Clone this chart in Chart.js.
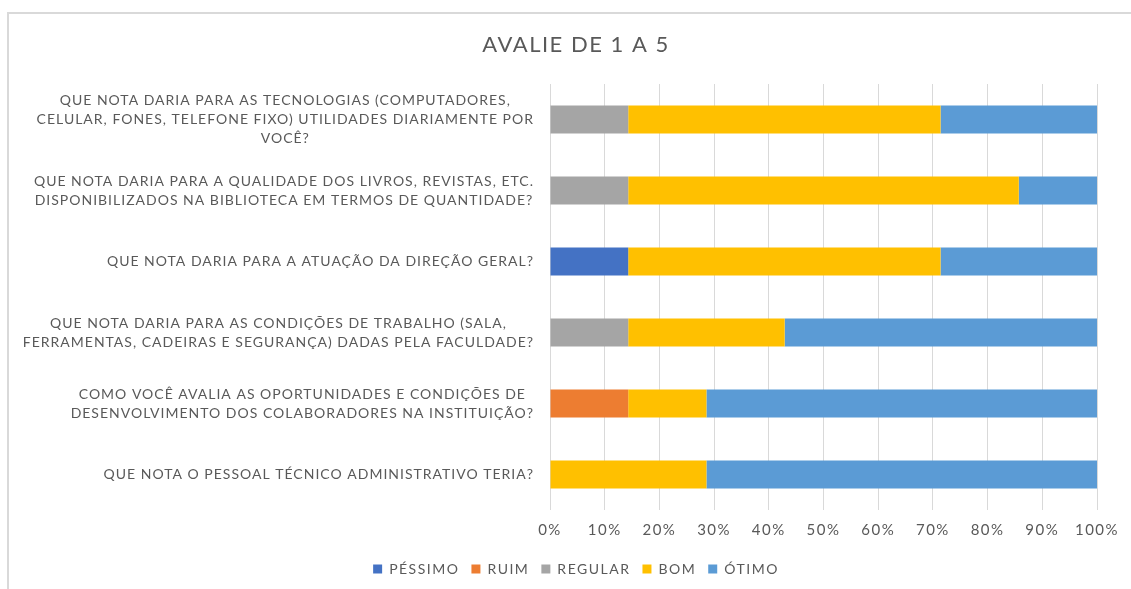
<!DOCTYPE html>
<html>
<head>
<meta charset="utf-8">
<script src="https://cdn.jsdelivr.net/npm/chart.js@4/dist/chart.umd.min.js"></script>
<style>
  html, body { margin: 0; padding: 0; width: 1131px; height: 589px; overflow: hidden; background: #fff; }
  #frame { position: absolute; left: 7px; top: 12px; width: 1200px; height: 700px;
           border-left: 2px solid #d9d9d9; border-top: 2px solid #d9d9d9; }
  #wrap { position: absolute; left: 8px; top: 13px; width: 1136px; height: 576px; }
</style>
</head>
<body>
<div id="frame"></div>
<div id="wrap"><canvas id="c" width="1136" height="576"></canvas></div>
<script>
const titleText = "AVALIE DE 1 A 5";
const categories = [
  ["QUE NOTA DARIA PARA AS TECNOLOGIAS (COMPUTADORES,", "CELULAR, FONES, TELEFONE FIXO) UTILIDADES DIARIAMENTE POR", "VOCÊ?"],
  ["QUE NOTA DARIA PARA A QUALIDADE DOS LIVROS, REVISTAS, ETC.", "DISPONIBILIZADOS NA BIBLIOTECA EM TERMOS DE QUANTIDADE?"],
  ["QUE NOTA DARIA PARA A ATUAÇÃO DA DIREÇÃO GERAL?"],
  ["QUE NOTA DARIA PARA AS CONDIÇÕES DE TRABALHO (SALA,", "FERRAMENTAS, CADEIRAS E SEGURANÇA) DADAS PELA FACULDADE?"],
  ["COMO VOCÊ AVALIA AS OPORTUNIDADES E CONDIÇÕES DE", "DESENVOLVIMENTO DOS COLABORADORES NA INSTITUIÇÃO?"],
  ["QUE NOTA O PESSOAL TÉCNICO ADMINISTRATIVO TERIA?"]
];
const seriesNames = ["PÉSSIMO", "RUIM", "REGULAR", "BOM", "ÓTIMO"];
const pessimo = [0, 0, 14.3, 0, 0, 0];
const ruim    = [0, 0, 0, 0, 14.3, 0];
const regular = [14.3, 14.3, 0, 14.3, 0, 0];
const bom     = [57.1, 71.4, 57.1, 28.6, 14.3, 28.6];
const otimo   = [28.6, 14.3, 28.6, 57.1, 71.4, 71.4];
const xTicks  = [0, 10, 20, 30, 40, 50, 60, 70, 80, 90, 100];

const colors = ["#4472C4", "#ED7D31", "#A5A5A5", "#FFC000", "#5B9BD5"];
const FONT = "Lato";
const TEXT = "#595959";
const SPACING = "1.5px";
const LABEL_SPACING = "1px";

const spacingPlugin = {
  id: 'spacing',
  beforeUpdate(chart) { chart.ctx.letterSpacing = SPACING; },
  beforeLayout(chart) { chart.ctx.letterSpacing = SPACING; },
  beforeDraw(chart) { chart.ctx.letterSpacing = SPACING; }
};

const labelPlugin = {
  id: 'catLabels',
  afterDraw(chart) {
    const ctx = chart.ctx;
    const ys = chart.scales.y;
    const right = chart.chartArea.left - 16;
    const lh = 19;
    ctx.save();
    ctx.letterSpacing = LABEL_SPACING;
    ctx.font = "14px " + FONT;
    ctx.fillStyle = TEXT;
    ctx.textAlign = "center";
    ctx.textBaseline = "middle";
    categories.forEach((lines, i) => {
      const yc = ys.getPixelForValue(i);
      const w = Math.max(...lines.map(l => ctx.measureText(l).width));
      const cx = right - w / 2;
      const y0 = yc - (lines.length - 1) * lh / 2;
      lines.forEach((l, j) => ctx.fillText(l, cx, y0 + j * lh));
    });
    ctx.restore();
  }
};

const seriesData = [pessimo, ruim, regular, bom, otimo];

new Chart(document.getElementById('c'), {
  type: 'bar',
  data: {
    labels: categories.map(c => c.join(' ')),
    datasets: seriesNames.map((n, k) => ({
      label: n,
      data: seriesData[k],
      backgroundColor: colors[k],
      borderWidth: 0,
      categoryPercentage: 1,
      barPercentage: 0.395
    }))
  },
  options: {
    indexAxis: 'y',
    responsive: false,
    animation: false,
    devicePixelRatio: 1,
    layout: { padding: { left: 0, right: 0, top: 0, bottom: 3 } },
    scales: {
      x: {
        stacked: true,
        min: 0, max: 100,
        afterBuildTicks(scale) { scale.ticks = xTicks.map(v => ({ value: v })); },
        afterFit(scale) { scale.height = 40; },
        grid: { color: "#d9d9d9", lineWidth: 1, drawTicks: false },
        border: { display: false },
        ticks: {
          color: TEXT, padding: 11,
          font: { family: FONT, size: 15 },
          callback: v => v + "%"
        }
      },
      y: {
        stacked: true,
        afterFit(scale) { scale.width = 542; },
        grid: { display: false },
        border: { display: false },
        ticks: { display: false }
      },
      yRight: {
        type: 'category',
        position: 'right',
        afterFit(scale) { scale.width = 47; },
        grid: { display: false },
        border: { display: false },
        ticks: { display: false }
      }
    },
    plugins: {
      title: {
        display: true, text: titleText, color: TEXT,
        font: { family: FONT, size: 22, weight: 'normal' },
        padding: { top: 19, bottom: 25.6 }
      },
      legend: {
        position: 'bottom',
        labels: {
          color: TEXT, boxWidth: 9, boxHeight: 9, padding: 12,
          font: { family: FONT, size: 14 }
        }
      },
      tooltip: { enabled: false }
    }
  },
  plugins: [spacingPlugin, labelPlugin]
});
</script>
</body>
</html>
